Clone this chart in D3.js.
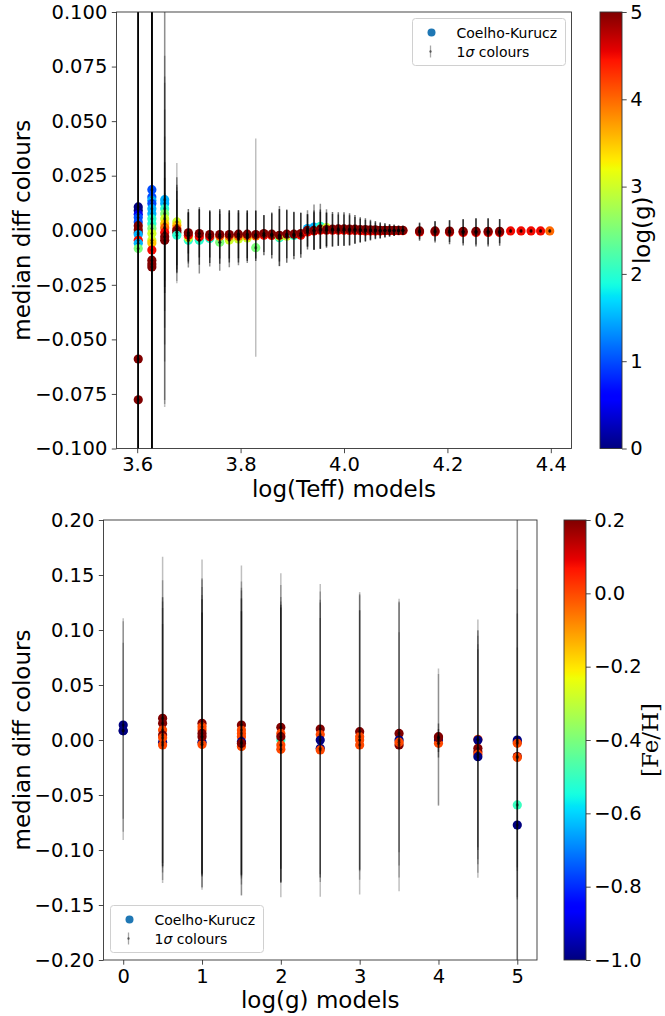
<!DOCTYPE html>
<html><head><meta charset="utf-8">
<script src="https://cdn.jsdelivr.net/npm/d3@7"></script>
<style>
body{margin:0;background:#fff}
svg{display:block}
</style>
</head><body>
<svg id="c" width="665" height="1016"></svg>
<script>
// ---------------- DATA ----------------
// Top panel: Teff grid (K) of models
const teffGrid = [4000,4250,4500,4750,5000,5250,5500,5750,6000,6250,6500,6750,7000,7250,7500,7750,8000,8250,8500,8750,9000,9250,9500,9750,10000,10250,10500,10750,11000,11250,11500,11750,12000,12250,12500,12750,13000,14000,15000,16000,17000,18000,19000,20000,21000,22000,23000,24000,25000];
// per Teff column: [log(g), median diff, 1-sigma, number of overlapping models ([Fe/H] values)]
const topPoints = [
 [[0,0.0107,0.25,1],[0,0.0091,0.2,1],[0.5,0.0073,0.18,1],[1,0.0058,0.15,1],[1,0.0038,0.14,1],[5,0.0021,0.3,1],[5,0.0002,0.25,1],[5,-0.0012,0.2,1],[1.5,-0.0020,0.13,1],[4.5,-0.0046,0.12,1],[1.5,-0.0060,0.12,1],[2.5,-0.0084,0.12,1],[5,-0.0590,0.2,1],[5,-0.0777,0.2,1]],
 [[1,0.0186,0.2,1],[1,0.0152,0.2,1],[1.5,0.0137,0.18,1],[1,0.0122,0.16,1],[1.5,0.0099,0.15,1],[1.5,0.0076,0.14,1],[2,0.0053,0.14,1],[2,0.0030,0.13,1],[2.5,0.0008,0.13,1],[3,-0.0015,0.13,1],[3,-0.0046,0.12,1],[3.5,-0.0058,0.12,1],[4.5,-0.0091,0.12,1],[5,-0.0137,0.15,1],[5,-0.0155,0.2,1],[5,-0.0168,0.25,1]],
 [[1.5,0.0140,0.095,1],[1.5,0.0122,0.09,1],[2,0.0099,0.07,1],[2.5,0.0076,0.06,1],[3,0.0053,0.05,1],[3.5,0.0030,0.04,1],[4,0.0012,0.03,2],[4.5,-0.0010,0.025,2],[5,-0.0030,0.02,2],[5,-0.0046,0.075,1]],
 [[3,0.0038,0.027,1],[3.5,0.0023,0.022,2],[4,0.0008,0.02,2],[5,0.0000,0.018,2],[5,-0.0010,0.015,2],[2,-0.0023,0.022,1]],
 [[2,-0.0046,0.0125,2],[3,-0.0034,0.0118,2],[4.5,-0.0023,0.012,3],[5,-0.0012,0.0095,3]],
 [[2,-0.0046,0.0152,2],[4.5,-0.0030,0.0128,3],[5,-0.0015,0.011,3]],
 [[2,-0.0038,0.0128,2],[4.5,-0.0030,0.012,3],[5,-0.0020,0.0105,3]],
 [[2.5,-0.0055,0.013,2],[4,-0.0028,0.0125,3],[5,-0.0020,0.011,3]],
 [[3,-0.0045,0.0125,2],[4,-0.0028,0.012,3],[5,-0.0020,0.011,3]],
 [[3,-0.0040,0.012,2],[4,-0.0028,0.012,3],[5,-0.0018,0.011,3]],
 [[3,-0.0035,0.0115,2],[4,-0.0026,0.0115,3],[5,-0.0018,0.011,3]],
 [[2.5,-0.0080,0.050,1],[4,-0.0026,0.0115,3],[5,-0.0020,0.011,3]],
 [[4.5,-0.0023,0.0092,3],[5,-0.0015,0.0085,3]],
 [[4.5,-0.0024,0.0105,3],[5,-0.0018,0.0095,3]],
 [[2,-0.0034,0.013,2],[3,-0.0027,0.0138,2],[5,-0.0023,0.012,3]],
 [[3,-0.0027,0.0122,3],[5,-0.0018,0.011,3]],
 [[2,-0.0024,0.0109,3],[5,-0.0018,0.0100,3]],
 [[4.5,-0.0023,0.0103,3],[5,-0.0015,0.0095,3]],
 [[1.5,0.0008,0.0084,2],[4.5,-0.0008,0.008,3],[5,0.0000,0.0075,3]],
 [[1.5,0.0015,0.0103,2],[4.5,-0.0003,0.0085,3],[5,0.0000,0.009,3]],
 [[2,0.0018,0.0103,2],[4.5,0.0000,0.0085,3],[5,0.0005,0.009,3]],
 [[3,0.0012,0.0084,2],[4.5,0.0000,0.008,3],[5,0.0003,0.0078,3]],
 [[4.5,0.0000,0.0075,3],[5,0.0005,0.0079,3]],
 [[4.5,0.0000,0.0072,3],[5,0.0006,0.0076,3]],
 [[4.5,0.0000,0.0072,3],[5,0.0006,0.0076,3]],
 [[4.5,-0.0001,0.007,3],[5,0.0005,0.0073,3]],
 [[4.5,-0.0001,0.0062,3],[5,0.0005,0.0065,3]],
 [[4.5,-0.0002,0.0055,3],[5,0.0003,0.0057,3]],
 [[4.5,-0.0003,0.005,3],[5,0.0003,0.0052,3]],
 [[4.5,-0.0003,0.0044,3],[5,0.0002,0.0046,3]],
 [[4.5,-0.0003,0.0038,3],[5,0.0002,0.004,3]],
 [[4.5,-0.0003,0.0035,3],[5,0.0000,0.0037,3]],
 [[4.5,-0.0002,0.003,3],[5,0.0000,0.0033,3]],
 [[4.5,-0.0002,0.0027,3],[5,0.0000,0.0029,3]],
 [[4.5,-0.0002,0.0024,3],[5,0.0000,0.0026,3]],
 [[4.5,-0.0002,0.002,3],[5,0.0000,0.0022,3]],
 [[4.5,-0.0002,0.002,3],[5,0.0000,0.0022,3]],
 [[4.5,-0.0008,0.004,3],[5,-0.0003,0.0038,3]],
 [[4.5,-0.0008,0.0048,3],[5,-0.0003,0.0045,3]],
 [[4.5,-0.0009,0.0055,3],[5,-0.0004,0.005,3]],
 [[4.5,-0.0010,0.006,3],[5,-0.0005,0.0055,3]],
 [[4.5,-0.0010,0.0064,3],[5,-0.0005,0.006,3]],
 [[4.5,-0.0010,0.0064,3],[5,-0.0005,0.006,3]],
 [[4.5,-0.0010,0.0061,3],[5,-0.0005,0.0055,3]],
 [[4.5,-0.0003,0.001,2]],
 [[4.5,-0.0003,0.0008,2]],
 [[4.5,-0.0003,0.0008,2]],
 [[4.5,-0.0003,0.0008,2]],
 [[4,-0.0003,0.0008,2]]
];
// Bottom panel: log(g) grid, per column [[Fe/H], median diff, 1-sigma, overlapping models]
const loggGrid = [0,0.5,1,1.5,2,2.5,3,3.5,4,4.5,5];
const bottomPoints = [
 [[-1,0.0136,0.097,1],[-1,0.0085,0.0995,1],[-1,0.0085,0.080,1]],
 [[0.2,0.0197,0.147,1],[0.2,0.0152,0.130,1],[0,0.0091,0.121,1],[0.2,0.0045,0.125,1],[-1,-0.0021,0.128,1],[0,-0.0045,0.110,1],[0,0.0020,0.118,1]],
 [[0.2,0.0152,0.149,1],[0,0.0120,0.135,1],[0,0.0091,0.130,1],[0.2,0.0060,0.140,1],[-1,-0.0021,0.134,1],[0,-0.0040,0.120,2],[0.2,0.0030,0.125,2]],
 [[0.2,0.0136,0.145,1],[0,0.0090,0.135,1],[0,0.0060,0.130,1],[0,0.0030,0.125,1],[-1,-0.0015,0.140,1],[0,-0.0060,0.135,1],[0.2,-0.0030,0.120,2]],
 [[0.2,0.0115,0.140,1],[0,0.0060,0.135,1],[-0.5,0.0000,0.130,1],[0,-0.0045,0.125,2],[0,-0.0085,0.1345,1],[0.2,0.0030,0.120,2]],
 [[0.2,0.0099,0.132,1],[0,0.0050,0.130,1],[-1,0.0000,0.125,1],[-1,-0.0076,0.135,1],[0,-0.0090,0.120,1]],
 [[0.2,0.0076,0.127,1],[0,0.0030,0.130,1],[0,0.0000,0.118,2],[0,-0.0045,0.136,1]],
 [[0.2,0.0060,0.120,1],[-1,0.0000,0.125,1],[0.2,-0.0045,0.133,1],[0,-0.0020,0.100,1]],
 [[0.2,0.0030,0.062,1],[-1,0.0000,0.060,1],[0,-0.0030,0.013,2],[0.2,0.0020,0.013,2]],
 [[0,0.0006,0.109,1],[-1,0.0000,0.100,1],[0.2,-0.0076,0.090,1],[0.2,-0.0106,0.110,1],[0,-0.0130,0.100,1],[-1,-0.0152,0.110,1]],
 [[-1,0.0000,0.300,1],[-1,-0.0015,0.250,1],[0,-0.0030,0.140,1],[0.2,-0.0150,0.130,1],[0,-0.0158,0.100,1],[-0.5,-0.0590,0.060,1],[-1,-0.0773,0.250,1]]
];
// ticks
const topXTicks = [3.6,3.8,4.0,4.2,4.4];
const topYTicks = [-0.1,-0.075,-0.05,-0.025,0,0.025,0.05,0.075,0.1];
const loggCbTicks = [0,1,2,3,4,5];
const botXTicks = [0,1,2,3,4,5];
const botYTicks = [-0.2,-0.15,-0.1,-0.05,0,0.05,0.1,0.15,0.2];
const fehCbTicks = [-1.0,-0.8,-0.6,-0.4,-0.2,0.0,0.2];
const legendLabels = ["Coelho-Kurucz","1σ colours"];

// ---------------- HELPERS ----------------
function pw(pts,t){
  for(let i=1;i<pts.length;i++){
    if(t<=pts[i][0]){const [x0,y0]=pts[i-1],[x1,y1]=pts[i];return y0+(y1-y0)*(t-x0)/(x1-x0);}
  }
  return pts[pts.length-1][1];
}
const JR=[[0,0],[0.35,0],[0.66,1],[0.89,1],[1,0.5]];
const JG=[[0,0],[0.125,0],[0.375,1],[0.64,1],[0.91,0],[1,0]];
const JB=[[0,0.5],[0.11,1],[0.34,1],[0.65,0],[1,0]];
function jet(t){t=Math.max(0,Math.min(1,t));return d3.rgb(255*pw(JR,t),255*pw(JG,t),255*pw(JB,t)).formatHex();}

const svg = d3.select("#c");
const defs = svg.append("defs");
const FS = 19.5, LFS = 23, SANS = "DejaVu Sans";
const SPINE = "#333";
const BAR_ALPHA = 0.25;

function txt(sel,size,fam){return sel.style("font-family",fam||SANS).style("font-size",size+"px").attr("fill","#000");}

function panel(o){
  const g = svg.append("g");
  const x = d3.scaleLinear().domain(o.xd).range([o.L,o.R]);
  const y = d3.scaleLinear().domain(o.yd).range([o.B,o.T]);
  const cid = "clip"+o.id;
  defs.append("clipPath").attr("id",cid).append("rect")
    .attr("x",o.L).attr("y",o.T).attr("width",o.R-o.L).attr("height",o.B-o.T);
  const c = d3.scaleLinear().domain(o.cd).range([0,1]);
  const flat = [];
  o.cols.forEach((col,i)=>col.forEach(p=>flat.push({x:o.xv(i),c:p[0],m:p[1],s:p[2],n:p[3]||1})));
  const plot = g.append("g").attr("clip-path",`url(#${cid})`);
  plot.append("g").selectAll("circle").data(flat).join("circle")
    .attr("cx",d=>x(d.x)).attr("cy",d=>y(d.m)).attr("r",4.6)
    .attr("fill",d=>jet(c(d.c)));
  plot.append("g").selectAll("line").data(flat).join("line")
    .attr("x1",d=>x(d.x)).attr("x2",d=>x(d.x))
    .attr("y1",d=>y(d.m+d.s)).attr("y2",d=>y(d.m-d.s))
    .attr("stroke","#000").attr("stroke-width",1.5)
    .attr("stroke-opacity",d=>1-Math.pow(1-BAR_ALPHA,d.n));
  plot.append("g").selectAll("circle").data(flat).join("circle")
    .attr("cx",d=>x(d.x)).attr("cy",d=>y(d.m)).attr("r",1.6)
    .attr("fill","#000").attr("fill-opacity",d=>1-Math.pow(0.55,d.n));
  const ax = g.append("g").attr("transform",`translate(0,${o.B})`)
    .call(d3.axisBottom(x).tickValues(o.xt).tickFormat(o.xf).tickSize(4.7).tickSizeOuter(0).tickPadding(4));
  const ay = g.append("g").attr("transform",`translate(${o.L},0)`)
    .call(d3.axisLeft(y).tickValues(o.yt).tickFormat(o.yf).tickSize(4.7).tickSizeOuter(0).tickPadding(4.5));
  [ax,ay].forEach(a=>{
    a.select(".domain").remove();
    a.selectAll("line").attr("stroke",SPINE).attr("stroke-width",0.9);
    txt(a.selectAll("text"),FS);
  });
  g.append("rect").attr("x",o.L).attr("y",o.T).attr("width",o.R-o.L).attr("height",o.B-o.T)
    .attr("fill","none").attr("stroke",SPINE).attr("stroke-width",0.9);
  txt(g.append("text").attr("x",(o.L+o.R)/2).attr("y",o.B+48).attr("text-anchor","middle"),LFS).text(o.xl);
  txt(g.append("text").attr("transform",`translate(30,${(o.T+o.B)/2}) rotate(-90)`)
    .attr("text-anchor","middle"),LFS).text("median diff colours");
  // colorbar
  const gid = "grad"+o.id;
  const grad = defs.append("linearGradient").attr("id",gid).attr("x1",0).attr("y1",1).attr("x2",0).attr("y2",0);
  d3.range(0,101).forEach(i=>grad.append("stop").attr("offset",i/100).attr("stop-color",jet(i/100)));
  g.append("rect").attr("x",o.cbx).attr("y",o.T).attr("width",22).attr("height",o.B-o.T).attr("fill",`url(#${gid})`);
  g.append("rect").attr("x",o.cbx).attr("y",o.T).attr("width",22).attr("height",o.B-o.T)
    .attr("fill","none").attr("stroke",SPINE).attr("stroke-width",0.9);
  const cy = d3.scaleLinear().domain(o.cd).range([o.B,o.T]);
  const ac = g.append("g").attr("transform",`translate(${o.cbx+22},0)`)
    .call(d3.axisRight(cy).tickValues(o.ct).tickFormat(o.cf).tickSize(4.7).tickSizeOuter(0).tickPadding(3.5));
  ac.select(".domain").remove();
  ac.selectAll("line").attr("stroke",SPINE).attr("stroke-width",0.9);
  txt(ac.selectAll("text"),FS);
  txt(g.append("text").attr("transform",`translate(${o.cblx},${(o.T+o.B)/2}) rotate(-90)`)
    .attr("text-anchor","middle"),LFS,o.cbfont).text(o.cl);
  // legend
  const lg = g.append("g").attr("transform",`translate(${o.lx},${o.ly})`);
  lg.append("rect").attr("x",0).attr("y",0).attr("width",153).attr("height",47).attr("rx",3)
    .attr("fill","#fff").attr("fill-opacity",0.8).attr("stroke","#d0d0d0").attr("stroke-width",1);
  lg.append("circle").attr("cx",19).attr("cy",14).attr("r",4).attr("fill","#1f77b4");
  lg.append("line").attr("x1",18).attr("x2",18).attr("y1",27).attr("y2",39)
    .attr("stroke","#000").attr("stroke-opacity",0.35).attr("stroke-width",1.3);
  lg.append("circle").attr("cx",18).attr("cy",33).attr("r",1.2).attr("fill","#000").attr("fill-opacity",0.5);
  txt(lg.append("text").attr("x",44).attr("y",19),14).text(legendLabels[0]);
  const t2 = txt(lg.append("text").attr("x",44).attr("y",38),14);
  t2.append("tspan").text("1");
  t2.append("tspan").style("font-style","italic").text("σ");
  t2.append("tspan").text(" colours");
}

panel({id:"t", L:116.5, R:571.5, T:12, B:448.5, xd:[3.56,4.44], yd:[-0.1,0.1],
  cols:topPoints, xv:i=>Math.log10(teffGrid[i]), cd:[0,5],
  xt:topXTicks, yt:topYTicks, xf:d3.format(".1f"), yf:d3.format(".3f"),
  xl:"log(Teff) models", cbx:600, ct:loggCbTicks, cf:d3.format("d"), cl:"log(g)", cblx:650, cbfont:SANS,
  lx:412.5, ly:18.5});
panel({id:"b", L:103.5, R:537, T:520, B:960, xd:[-0.25,5.25], yd:[-0.2,0.2],
  cols:bottomPoints, xv:i=>loggGrid[i], cd:[-1,0.2],
  xt:botXTicks, yt:botYTicks, xf:d3.format("d"), yf:d3.format(".2f"),
  xl:"log(g) models", cbx:564, ct:fehCbTicks, cf:d3.format(".1f"), cl:"[Fe/H]", cblx:658, cbfont:"DejaVu Serif",
  lx:110.5, ly:905.5});
</script>
</body></html>
